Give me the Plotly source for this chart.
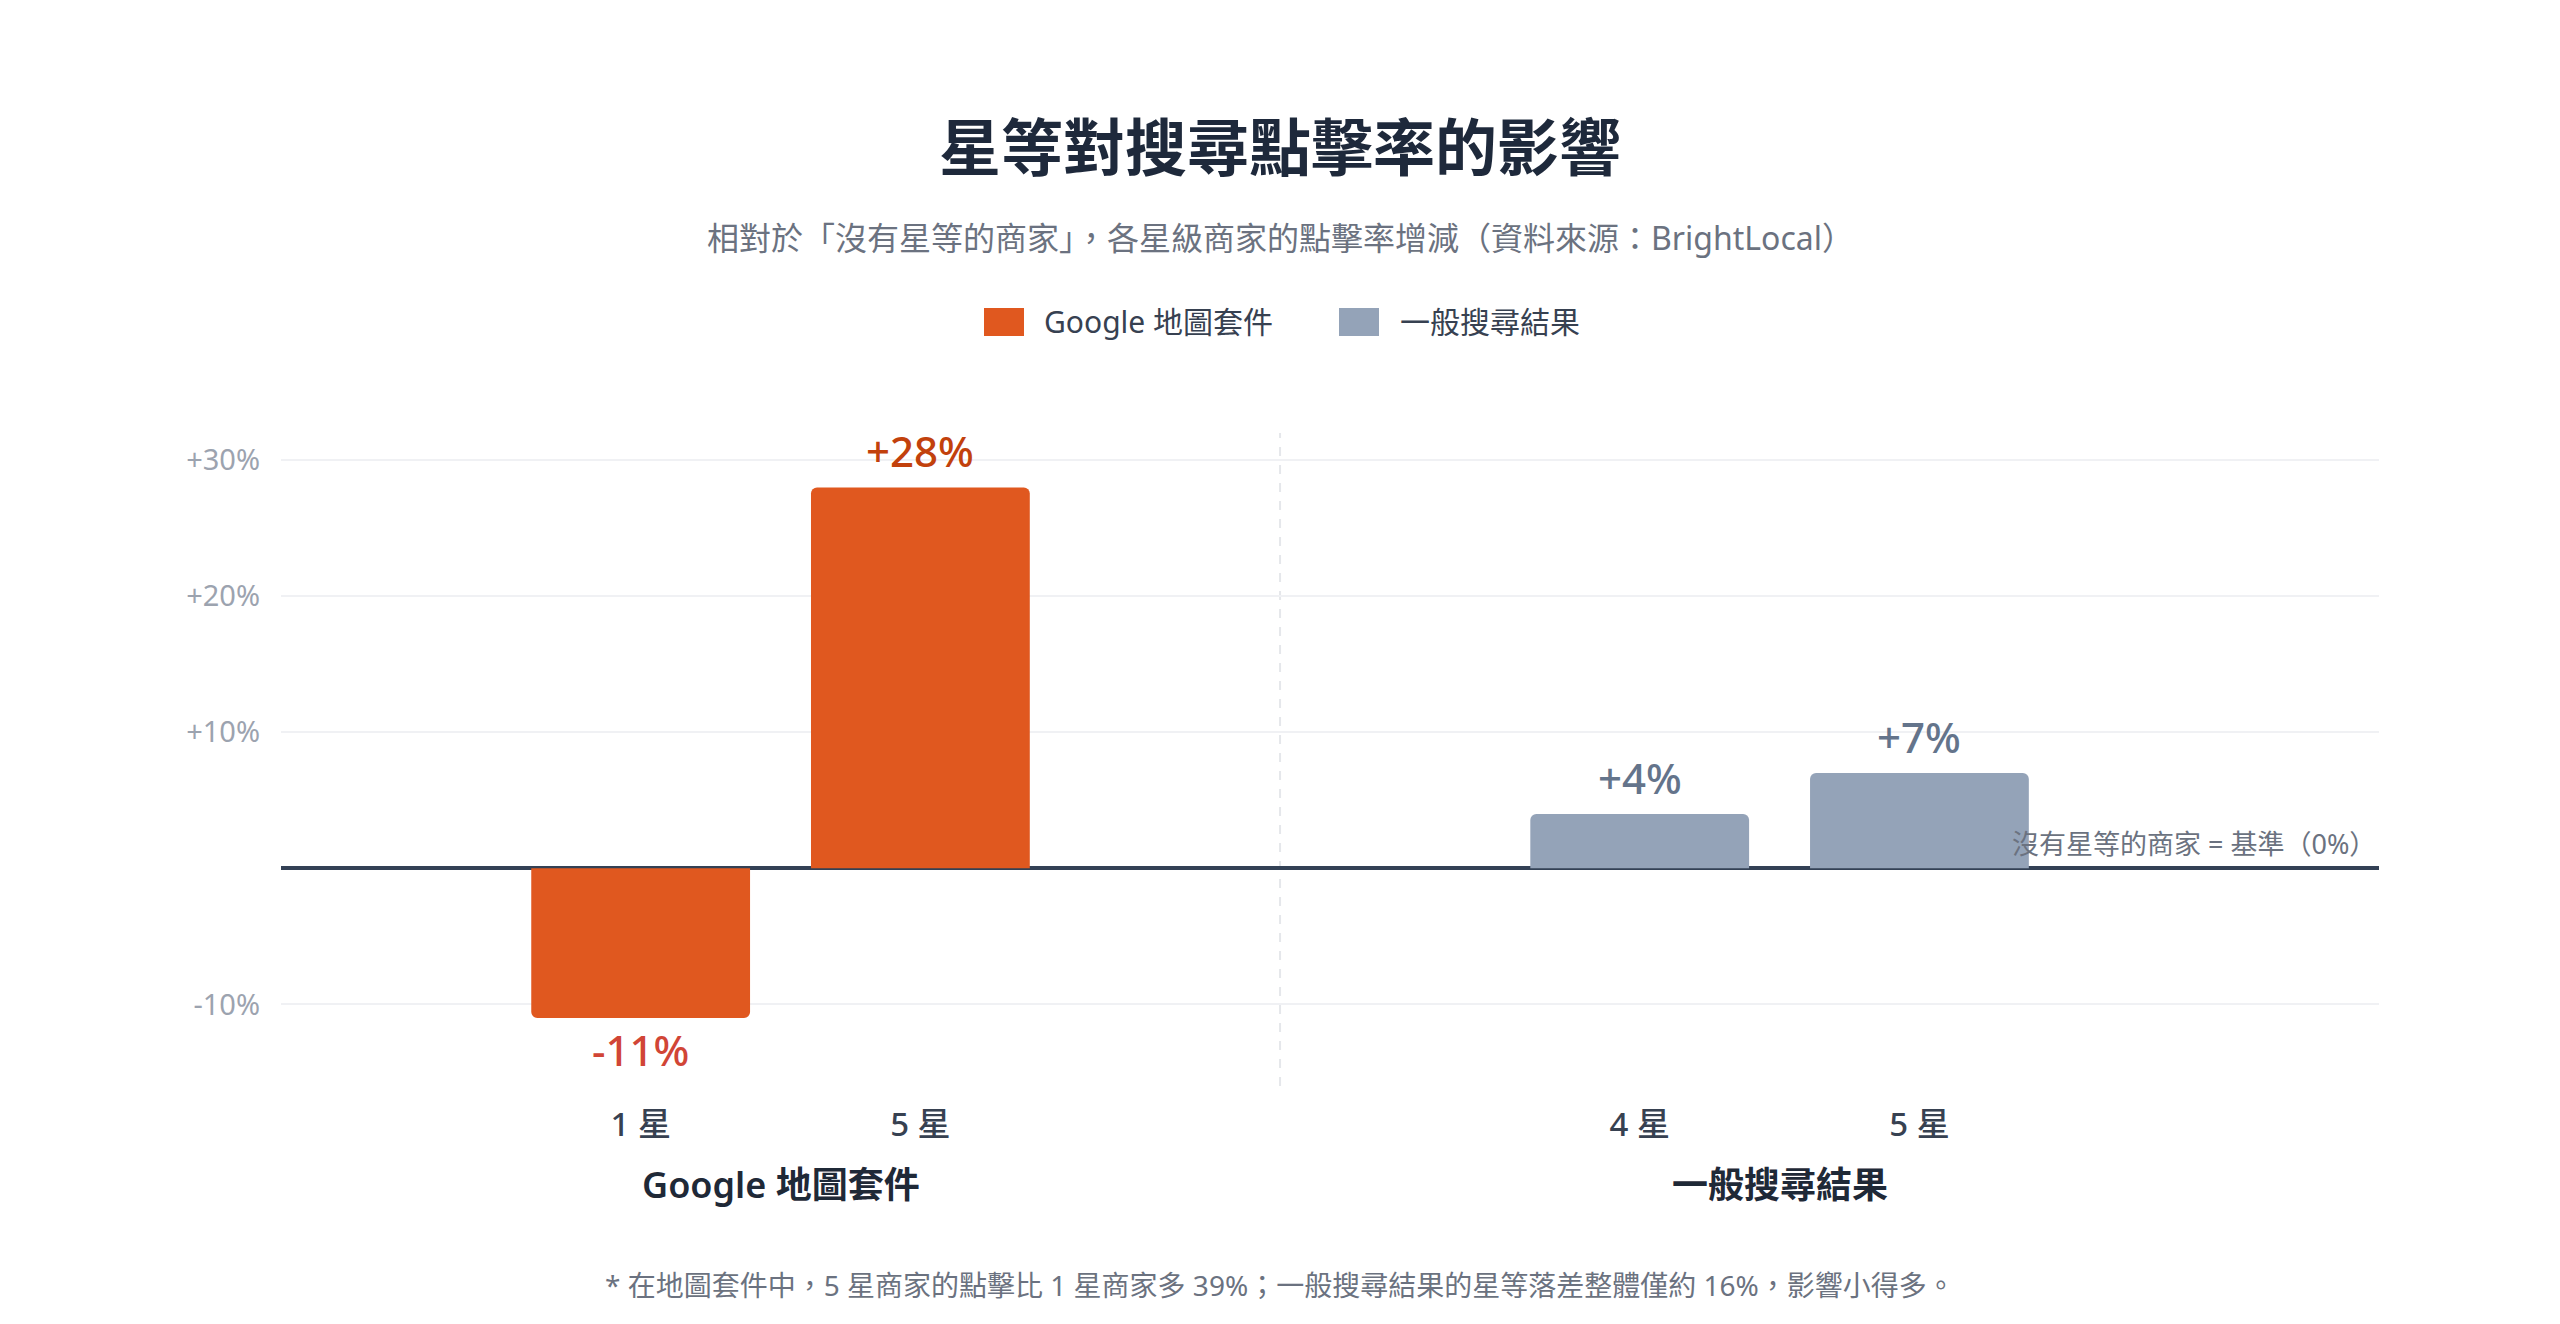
import plotly.graph_objects as go

# ---- data ----
groups = ["Google 地圖套件", "一般搜尋結果"]
star_labels = [["1 星", "5 星"], ["4 星", "5 星"]]
values = [[-11, 28], [4, 7]]
y_ticks = [-10, 10, 20, 30]

title = "星等對搜尋點擊率的影響"
subtitle = "相對於「沒有星等的商家」，各星級商家的點擊率增減（資料來源：BrightLocal）"
baseline_note = "沒有星等的商家 = 基準（0%）"
footnote = "* 在地圖套件中，5 星商家的點擊比 1 星商家多 39%；一般搜尋結果的星等落差整體僅約 16%，影響小得多。"

# ---- style ----
FONT = "Noto Sans, Noto Sans CJK TC, sans-serif"
bar_colors = ["#e0581f", "#94a3b8"]
value_colors = [["#d14536", "#c2410c"], ["#64748b", "#64748b"]]
W, H = 2560, 1324
ML, MR, MT, MB = 281, 181, 433, 238
PW, PH = W - ML - MR, H - MT - MB
offsets = [-0.14, 0.14]
bar_width = 0.219


def px_x(x):
    return (x - ML) / PW


def px_y(y):
    return (H - MB - y) / PH


fig = go.Figure()
tickvals, ticktext = [], []
annotations = []
for g, grp in enumerate(groups):
    xs = [g + o for o in offsets]
    tickvals += xs
    ticktext += star_labels[g]
    fig.add_trace(go.Bar(
        x=xs, y=values[g], width=bar_width, name=grp,
        marker=dict(color=bar_colors[g], line=dict(width=0)),
        showlegend=False,
        hovertemplate="%{y:+d}%<extra>" + grp + "</extra>",
    ))
    for x, v, c in zip(xs, values[g], value_colors[g]):
        annotations.append(dict(
            x=x, y=v, xref="x", yref="y", text=f"{v:+d}%", showarrow=False,
            yanchor="bottom" if v > 0 else "top", yshift=6 if v > 0 else -1,
            font=dict(family=FONT, size=42, color=c, weight=500),
        ))
    annotations.append(dict(
        x=g, y=px_y(1184), xref="x", yref="paper", text=grp, showarrow=False,
        yanchor="middle", font=dict(family=FONT, size=36, color="#1f2937", weight=600),
    ))

cx = px_x(1280)
annotations += [
    dict(x=cx, y=px_y(147), xref="paper", yref="paper", text=f"<b>{title}</b>",
         showarrow=False, yanchor="middle", font=dict(family=FONT, size=62, color="#1e293b")),
    dict(x=cx, y=px_y(237), xref="paper", yref="paper", text=subtitle,
         showarrow=False, yanchor="middle", font=dict(family=FONT, size=32, color="#6b7280")),
    dict(x=cx, y=px_y(1285), xref="paper", yref="paper", text=footnote,
         showarrow=False, yanchor="middle", font=dict(family=FONT, size=28, color="#6b7280")),
    dict(x=px_x(2378), y=0, xref="paper", yref="y", text=baseline_note,
         showarrow=False, xanchor="right", yanchor="bottom", yshift=4,
         font=dict(family=FONT, size=27, color="#6b7280")),
]

# manual legend
legend_items = [(groups[0], bar_colors[0], 984, 1042), (groups[1], bar_colors[1], 1339, 1398)]
shapes = []
for name, col, sx, tx in legend_items:
    shapes.append(dict(
        type="rect", xref="paper", yref="paper", xsizemode="pixel", ysizemode="pixel",
        xanchor=px_x(sx), yanchor=px_y(322), x0=0, x1=40, y0=-14, y1=14,
        fillcolor=col, line=dict(width=0),
    ))
    annotations.append(dict(
        x=px_x(tx), y=px_y(322), xref="paper", yref="paper", text=name, showarrow=False,
        xanchor="left", yanchor="middle", font=dict(family=FONT, size=30, color="#374151"),
    ))

# dashed divider between groups
shapes.append(dict(
    type="line", xref="x", yref="paper", x0=0.5, x1=0.5, y0=0, y1=1,
    line=dict(color="#e5e7eb", width=2, dash="dash"), layer="below",
))

fig.update_layout(
    width=W, height=H,
    margin=dict(l=ML, r=MR, t=MT, b=MB, pad=0),
    paper_bgcolor="white", plot_bgcolor="white",
    barmode="overlay", barcornerradius=6,
    font=dict(family=FONT),
    annotations=annotations, shapes=shapes,
    xaxis=dict(
        range=[-0.5, 1.6], tickvals=tickvals, ticktext=ticktext,
        showgrid=False, zeroline=False, showline=False, ticks="",
        ticklabelstandoff=16,
        tickfont=dict(family=FONT, size=33, color="#374151", weight=500),
        fixedrange=True,
    ),
    yaxis=dict(
        range=[-16, 32], tickvals=y_ticks, ticktext=[f"{v:+d}%" for v in y_ticks],
        showgrid=True, gridcolor="#f0f1f4", gridwidth=2,
        zeroline=True, zerolinecolor="#334155", zerolinewidth=4,
        showline=False, ticks="", ticklabelstandoff=20,
        tickfont=dict(family=FONT, size=29, color="#9ca3af"),
        fixedrange=True,
    ),
)

fig.write_html("out.html", config={"displayModeBar": False})
